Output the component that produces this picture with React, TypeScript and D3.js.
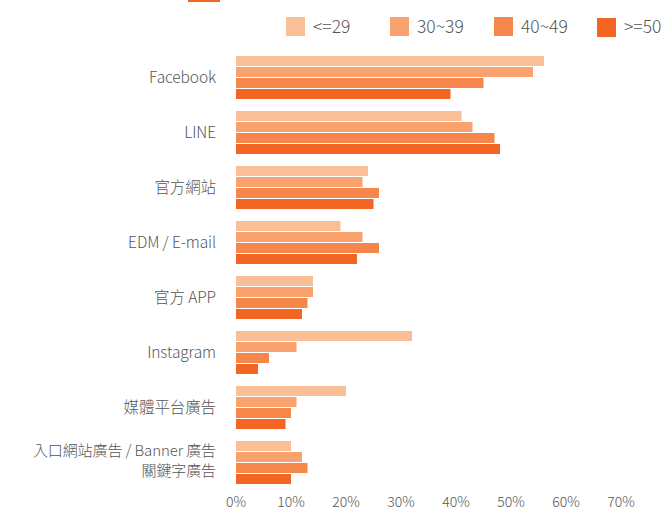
import React from "react";
import * as d3 from "d3";

const categories = [
  "Facebook",
  "LINE",
  "官方網站",
  "EDM / E-mail",
  "官方 APP",
  "Instagram",
  "媒體平台廣告",
  "入口網站廣告 / Banner 廣告\n關鍵字廣告",
];
const seriesNames = ["<=29", "30~39", "40~49", ">=50"];
const s1 = [56, 41, 24, 19, 14, 32, 20, 10];
const s2 = [54, 43, 23, 23, 14, 11, 11, 12];
const s3 = [45, 47, 26, 26, 13, 6, 10, 13];
const s4 = [39, 48, 25, 22, 12, 4, 9, 10];
const ticks = [0, 10, 20, 30, 40, 50, 60, 70];
const colors = ["#FBBF98", "#F9A26E", "#F5874B", "#F26522"];

export default function App() {
  const W = 672, H = 515;
  const series = [s1, s2, s3, s4];
  const x = d3.scaleLinear().domain([0, 70]).range([236, 621]);
  const y0 = d3.scaleBand<string>().domain(categories).range([56, 496]).paddingInner(0).paddingOuter(0);
  const step = 11;
  const barH = 10;
  const font = "'Noto Sans CJK TC', 'Noto Sans', sans-serif";
  const legendX = [286, 390, 494, 597];
  return (
    <svg width={W} height={H} style={{ position: "absolute", left: 0, top: 0, background: "#fff" }}>
      <rect x={188} y={0} width={32} height={2} fill="#F26522" />
      {seriesNames.map((n, i) => (
        <g key={n}>
          <rect x={legendX[i]} y={i === 3 ? 18 : 17} width={19} height={19} fill={colors[i]} />
          <text x={legendX[i] + 27} y={32.5} fontSize={17.5} fill="#555" fontFamily={font} fontWeight={300}>{n}</text>
        </g>
      ))}
      {categories.map((c, ci) => {
        const gy = y0(c)!;
        const lines = c.split("\n");
        const cy = gy + 22;
        const base = lines.length > 1 ? 3 : 5;
        return (
          <g key={c}>
            {series.map((s, si) => (
              <rect key={si} x={x(0)} y={gy + si * step} width={x(s[ci]) - x(0)} height={barH} fill={colors[si]} />
            ))}
            {lines.map((l, li) => (
              <text key={li} x={216} y={cy + base + (li - (lines.length - 1) / 2) * 20} textAnchor="end" fontSize={lines.length > 1 ? 15 : 15.5} fill="#555" fontFamily={font} fontWeight={300} letterSpacing={-0.1}>{l}</text>
            ))}
          </g>
        );
      })}
      {ticks.map((t) => (
        <text key={t} x={x(t)} y={507} textAnchor="middle" fontSize={14} fill="#555" fontFamily={font} fontWeight={300}>{t}%</text>
      ))}
    </svg>
  );
}
